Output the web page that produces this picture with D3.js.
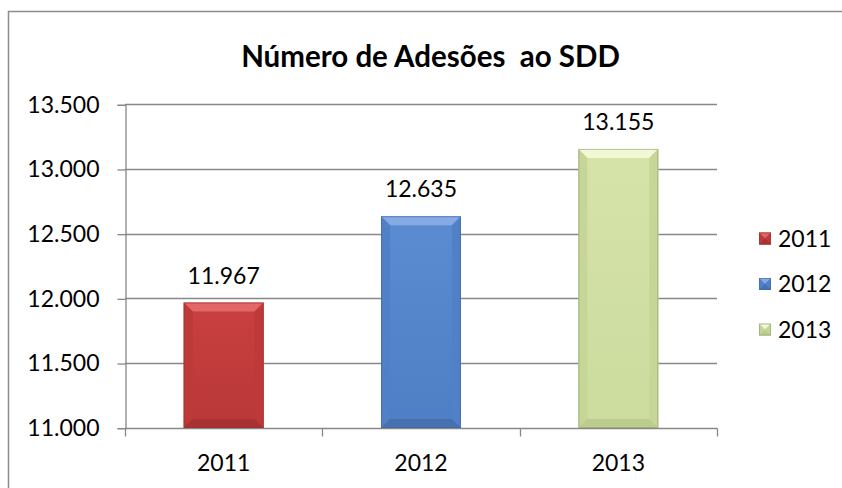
<!DOCTYPE html>
<html>
<head>
<meta charset="utf-8">
<script src="https://cdn.jsdelivr.net/npm/d3@7"></script>
<style>
  html, body { margin: 0; padding: 0; background: #fff; overflow: hidden; }
  svg { display: block; font-family: Lato, "Open Sans", sans-serif; }
</style>
</head>
<body>
<svg id="chart" width="842" height="488"></svg>
<script>
// Data
const title = "Número de Adesões  ao SDD";
const years = ["2011", "2012", "2013"];
const adesoes = [11967, 12635, 13155];
const valueLabels = ["11.967", "12.635", "13.155"];
const yTicks = [11000, 11500, 12000, 12500, 13000, 13500];
const yTickLabels = ["11.000", "11.500", "12.000", "12.500", "13.000", "13.500"];

// Bar palette: face, top bevel, side bevel, bottom bevel, edge
const palette = [
  { face: "#C9403F", faceDark: "#B93838", top: "#E36767", side: "#BE3A3A", bottom: "#A83232", edge: "#9E3030" },
  { face: "#5B8CD2", faceDark: "#4E7EC4", top: "#86ABE4", side: "#5080C6", bottom: "#4670B0", edge: "#41679F" },
  { face: "#D5E3A9", faceDark: "#CCDB9E", top: "#F1F8D6", side: "#C6D696", bottom: "#BCCB8E", edge: "#8E9E6C" }
];

const svg = d3.select("#chart");
const W = 842, H = 488;

// Chart frame: left and top edges only
const frame = svg.append("g").attr("stroke", "#8c8c8c").attr("stroke-width", 1.5);
frame.append("line").attr("x1", 8.5).attr("x2", 8.5).attr("y1", 11).attr("y2", H);
frame.append("line").attr("x1", 8).attr("x2", W).attr("y1", 11.5).attr("y2", 11.5);

const plot = { left: 125, right: 717, top: 104.3, bottom: 427.7 };

const x = d3.scaleBand().domain(years).range([plot.left, plot.right]).padding(0);
const y = d3.scaleLinear().domain([11000, 13500]).range([plot.bottom, plot.top]);

const gridColor = "#888888";

// Horizontal gridlines
svg.append("g").selectAll("line").data(yTicks.slice(1)).join("line")
  .attr("x1", plot.left).attr("x2", plot.right)
  .attr("y1", d => Math.round(y(d)) + 0.5).attr("y2", d => Math.round(y(d)) + 0.5)
  .attr("stroke", gridColor).attr("stroke-width", 1.3);

// Y axis
const yAxis = d3.axisLeft(y).tickValues(yTicks)
  .tickFormat((d, i) => yTickLabels[i]).tickSize(8).tickPadding(18);
const gy = svg.append("g").attr("transform", `translate(${plot.left + 0.5},0.5)`).call(yAxis);
gy.select(".domain").attr("stroke", gridColor).attr("stroke-width", 1.3);
gy.selectAll(".tick line").attr("stroke", gridColor).attr("stroke-width", 1.3);
gy.selectAll(".tick text").attr("font-family", "Lato, sans-serif")
  .attr("font-size", 23).attr("fill", "#000");

// X axis with tick marks at category boundaries
const gx = svg.append("g").attr("transform", `translate(0,${Math.round(plot.bottom) + 0.5})`);
gx.append("line").attr("x1", plot.left).attr("x2", plot.right + 0.5)
  .attr("stroke", gridColor).attr("stroke-width", 1.5);
const boundaries = years.map(d => x(d)).concat([x(years[years.length - 1]) + x.bandwidth()]);
gx.selectAll("line.tick").data(boundaries).join("line").attr("class", "tick")
  .attr("x1", d => Math.round(d) + 0.5).attr("x2", d => Math.round(d) + 0.5)
  .attr("y1", 0).attr("y2", 8)
  .attr("stroke", gridColor).attr("stroke-width", 1.3);
gx.selectAll("text").data(years).join("text")
  .attr("x", d => x(d) + x.bandwidth() / 2).attr("y", 42)
  .attr("text-anchor", "middle").attr("font-size", 23).attr("fill", "#000")
  .text(d => d);

// Beveled bars
const barW = x.bandwidth() * 0.405;
const bevel = 9;

function bevelShape(g, x0, y0, w, h, c, b) {
  const x1 = x0 + w, y1 = y0 + h;
  b = Math.min(b, w / 2, h / 2);
  g.append("rect").attr("x", x0).attr("y", y0).attr("width", w).attr("height", h)
    .attr("fill", c.grad || c.face);
  const poly = (pts, fill) => g.append("polygon")
    .attr("points", pts.map(p => p.join(",")).join(" ")).attr("fill", fill);
  poly([[x0, y0], [x1, y0], [x1 - b, y0 + b], [x0 + b, y0 + b]], c.top);
  poly([[x0, y0], [x0 + b, y0 + b], [x0 + b, y1 - b], [x0, y1]], c.side);
  poly([[x1, y0], [x1, y1], [x1 - b, y1 - b], [x1 - b, y0 + b]], c.side);
  poly([[x0, y1], [x0 + b, y1 - b], [x1 - b, y1 - b], [x1, y1]], c.bottom);
  g.append("rect").attr("x", x0 + 0.5).attr("y", y0 + 0.5)
    .attr("width", w - 1).attr("height", h - 1)
    .attr("fill", "none").attr("stroke", c.edge).attr("stroke-width", 1).attr("stroke-opacity", 0.6);
}

const defs = svg.append("defs");
palette.forEach((c, i) => {
  const lg = defs.append("linearGradient").attr("id", "face" + i)
    .attr("x1", 0).attr("y1", 0).attr("x2", 0).attr("y2", 1);
  lg.append("stop").attr("offset", 0).attr("stop-color", c.face);
  lg.append("stop").attr("offset", 1).attr("stop-color", c.faceDark);
  c.grad = `url(#face${i})`;
});

const bars = svg.append("g");
years.forEach((yr, i) => {
  const cx = x(yr) + x.bandwidth() / 2;
  const top = y(adesoes[i]);
  bevelShape(bars.append("g"), cx - barW / 2, top, barW, Math.round(plot.bottom) - top, palette[i], bevel);
});

// Value labels
svg.append("g").selectAll("text").data(years).join("text")
  .attr("x", d => x(d) + x.bandwidth() / 2)
  .attr("y", (d, i) => y(adesoes[i]) - 19)
  .attr("text-anchor", "middle").attr("font-size", 23).attr("fill", "#000")
  .text((d, i) => valueLabels[i]);

// Title
svg.append("text").attr("x", 430.5).attr("y", 66.5)
  .attr("text-anchor", "middle").attr("font-size", 29.5).attr("font-weight", "bold")
  .attr("fill", "#000").style("white-space", "pre")
  .text(title);

// Legend
const legend = svg.append("g");
const legendRows = [238.5, 284, 329.5];
years.forEach((yr, i) => {
  const g = legend.append("g");
  bevelShape(g, 759, legendRows[i] - 6, 12, 12, palette[i], 6);
  g.append("text").attr("x", 778).attr("y", legendRows[i] + 8)
    .attr("font-size", 23).attr("fill", "#000").text(yr);
});
</script>
</body>
</html>
